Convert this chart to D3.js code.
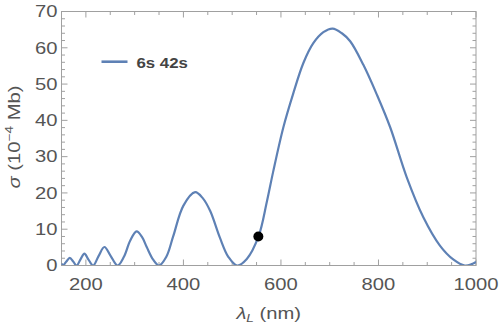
<!DOCTYPE html>
<html><head><meta charset="utf-8">
<script src="https://cdn.jsdelivr.net/npm/d3@7"></script>
<style>
html,body{margin:0;padding:0;background:#fff;}
svg{display:block;}
</style></head>
<body>
<script>
// ---- data ----
const lambdaNm = [150,153,160,167,174,181,189,197,205,215,226,238,251,265,278,291,304,315,325,338,350,365,379,400,424,440,455,475,492,510,530,554,571,584,605,625,646,666,687,706,725,742,769,797,824,858,892,926,954,977,990,1000];
const sigmaVal = [0.6,0,1.1,2.1,1.1,0,1.7,3.3,1.7,0,2.6,5.1,2.6,0,2.4,6.9,9.4,7.9,5.0,1.6,0,2.4,8.0,16.5,20.2,18.5,15.0,7.6,2.4,0,1.8,8.0,17.5,25.8,38.1,47.3,55.8,61.2,64.3,65.3,64.0,61.8,55.3,47.0,38.1,24.3,13.3,5.5,1.6,0,0.3,1.0];
const dotLambda = [553.7];
const dotSigma = [8.0];
const xTicks = [200,400,600,800,1000];
const yTicks = [0,10,20,30,40,50,60,70];
const seriesName = "6s 42s";

(function(){
const W=500,H=332;
const pL=61.5,pR=476,pT=11.5,pB=265.5;
const x=d3.scaleLinear().domain([150,1000]).range([pL,pR]);
const y=d3.scaleLinear().domain([0,70]).range([pB,pT]);

const svg=d3.select("body").append("svg").attr("width",W).attr("height",H);
const frameCol="#a0a0a0", labCol="#555555", lineCol="#5e81b5";
const fontF="'Liberation Sans', Arial, Helvetica, sans-serif";
const SX=1.24;

// frame
svg.append("rect").attr("x",pL).attr("y",pT).attr("width",pR-pL).attr("height",pB-pT)
  .attr("fill","none").attr("stroke",frameCol).attr("stroke-width",1);

const xMinor=d3.range(150,1001,50), yMinor=d3.range(0,70.1,2);
const tk=svg.append("g").attr("stroke",frameCol).attr("stroke-width",1);
xMinor.forEach(v=>{
  const L = xTicks.includes(v)?6:3.5;
  const px=x(v);
  tk.append("line").attr("x1",px).attr("x2",px).attr("y1",pB).attr("y2",pB-L);
  tk.append("line").attr("x1",px).attr("x2",px).attr("y1",pT).attr("y2",pT+L);
});
yMinor.forEach(v=>{
  const L = (Math.abs(v%10)<1e-6)?6:3.5;
  const py=y(v);
  tk.append("line").attr("x1",pL).attr("x2",pL+L).attr("y1",py).attr("y2",py);
  tk.append("line").attr("x1",pR).attr("x2",pR-L).attr("y1",py).attr("y2",py);
});

function label(xp,yp,txt,anchor,size,opts){
  const g=svg.append("g").attr("transform",`translate(${xp},${yp})${opts&&opts.rot?` rotate(${opts.rot})`:''}`);
  const t=g.append("text").attr("transform",`scale(${opts&&opts.sx?opts.sx:SX},1)`)
    .attr("text-anchor",anchor).attr("font-family",fontF).attr("font-size",size)
    .attr("fill",opts&&opts.fill?opts.fill:labCol);
  if(opts&&opts.bold) t.attr("font-weight","bold");
  if(txt!==null) t.text(txt);
  return t;
}
xTicks.forEach(v=>label(x(v),290,String(v),"middle",16.3));
yTicks.forEach(v=>label(pL-4,y(v)+5.8,String(v),"end",16.3));

// axis titles
const xl=label((pL+pR)/2,318.5,null,"middle",16.3);
xl.append("tspan").attr("font-style","italic").text("λ");
xl.append("tspan").attr("font-style","italic").attr("font-size",11).attr("dy",3.5).text("L");
xl.append("tspan").attr("dy",-3.5).text(" (nm)");

const yl=label(20,137,null,"middle",16.3,{rot:-90});
yl.append("tspan").attr("font-style","italic").text("σ");
yl.append("tspan").text(" (10");
yl.append("tspan").attr("font-size",11).attr("dy",-7).text("−4");
yl.append("tspan").attr("dy",7).text(" Mb)");

// curve
svg.append("clipPath").attr("id","clip").append("rect").attr("x",pL).attr("y",pT-2).attr("width",pR-pL).attr("height",pB-pT+1.6);
const pts=lambdaNm.map((l,i)=>[l,sigmaVal[i]]);
svg.append("path").datum(pts).attr("clip-path","url(#clip)")
  .attr("fill","none").attr("stroke",lineCol).attr("stroke-width",2.2)
  .attr("stroke-linejoin","round")
  .attr("d",d3.line().x(d=>x(d[0])).y(d=>y(d[1])).curve(d3.curveCatmullRom.alpha(0.5)));

// dot
svg.selectAll("circle.dot").data(dotLambda.map((l,i)=>[l,dotSigma[i]])).enter().append("circle")
  .attr("cx",d=>x(d[0])).attr("cy",d=>y(d[1])).attr("r",5).attr("fill","#000");

// legend
svg.append("line").attr("x1",101.5).attr("x2",127.5).attr("y1",61.7).attr("y2",61.7)
  .attr("stroke",lineCol).attr("stroke-width",2.6);
label(136.5,68.3,seriesName,"start",15,{bold:true,sx:1.12,fill:"#444444"});
})();
</script>
</body></html>
